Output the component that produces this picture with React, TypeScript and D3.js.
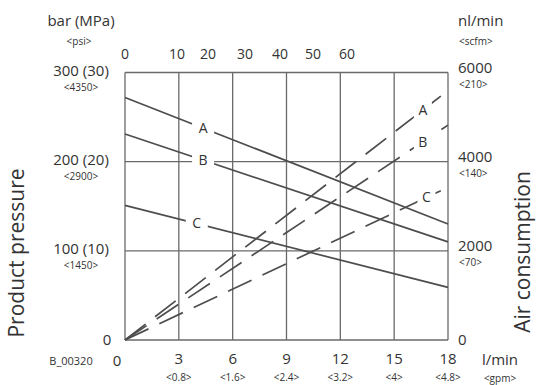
import { useMemo } from "react";
import * as d3 from "d3";

// flow axis (l/min) with gpm sub-labels
const flowTicks = [0, 3, 6, 9, 12, 15, 18];
const gpmLabels = ["", "<0.8>", "<1.6>", "<2.4>", "<3.2>", "<4>", "<4.8>"];

// top scale labels and where they sit on the flow axis
const topLabels = ["0", "10", "20", "30", "40", "50", "60"];
const topLabelFlow = [0, 2.9, 4.63, 6.69, 8.64, 10.48, 12.37];

// left axis (bar)
const pressureTicks = [0, 100, 200, 300];
const pressureLabels = ["0", "100 (10)", "200 (20)", "300 (30)"];
const psiLabels = ["", "<1450>", "<2900>", "<4350>"];

// right axis (nl/min)
const airTicks = [0, 2000, 4000, 6000];
const airLabels = ["0", "2000", "4000", "6000"];
const scfmLabels = ["", "<70>", "<140>", "<210>"];

const seriesNames = ["A", "B", "C"];
// product pressure, solid lines: [flow, bar]
const pressureA: [number, number][] = [[0, 272], [18, 130]];
const pressureB: [number, number][] = [[0, 231], [18, 110]];
const pressureC: [number, number][] = [[0, 151], [18, 59]];
// air consumption, dashed lines: [flow, nl/min]
const airA: [number, number][] = [[0, 0], [17.6, 5470]];
const airB: [number, number][] = [[0, 0], [18, 4820]];
const airC: [number, number][] = [[0, 0], [17.6, 3350]];
// where the letters sit along each line (flow)
const pressureLabelAt = [4.35, 4.35, 4.0];
const airLabelAt = [16.6, 16.6, 16.8];

const FONT = "'Open Sans', 'Noto Sans', sans-serif";
const INK = "#333";
const LINE = "#4d4d4d";
const GRID = "#6a6a6a";

export default function App() {
  const x = useMemo(() => d3.scaleLinear().domain([0, 18]).range([125, 448]), []);
  const y = useMemo(() => d3.scaleLinear().domain([0, 300]).range([340, 72.5]), []);
  const yAir = useMemo(() => d3.scaleLinear().domain([0, 6000]).range([340, 72.5]), []);

  const pLine = d3.line<[number, number]>().x((d) => x(d[0])).y((d) => y(d[1]));
  const aLine = d3.line<[number, number]>().x((d) => x(d[0])).y((d) => yAir(d[1]));

  const pressures = [pressureA, pressureB, pressureC];
  const airs = [airA, airB, airC];

  const at = (pts: [number, number][], f: number) =>
    d3.scaleLinear().domain([pts[0][0], pts[1][0]]).range([pts[0][1], pts[1][1]])(f);

  const [x0, x1] = x.range();
  const [yb, yt] = y.range();

  return (
    <svg
      width={546}
      height={385}
      style={{ position: "fixed", left: 0, top: 0, background: "#fff" }}
      fontFamily={FONT}
    >
      <rect width={546} height={385} fill="#fff" />

      {/* grid */}
      <g stroke={GRID} strokeWidth={1.3} fill="none">
        {flowTicks.map((t) => (
          <line key={"v" + t} x1={x(t)} x2={x(t)} y1={yb} y2={yt} />
        ))}
        {pressureTicks.map((t) => (
          <line key={"h" + t} x1={x0} x2={x1} y1={y(t)} y2={y(t)} />
        ))}
      </g>

      {/* air consumption (dashed) */}
      <g stroke={LINE} strokeWidth={1.7} fill="none" strokeDasharray="26,12">
        {airs.map((pts, i) => (
          <path key={"a" + i} d={aLine(pts) ?? ""} />
        ))}
      </g>

      {/* product pressure (solid) */}
      <g stroke={LINE} strokeWidth={1.7} fill="none">
        {pressures.map((pts, i) => (
          <path key={"p" + i} d={pLine(pts) ?? ""} />
        ))}
      </g>

      {/* series letters with white knock-out */}
      {seriesNames.map((s, i) => {
        const px = x(pressureLabelAt[i]);
        const py = y(at(pressures[i], pressureLabelAt[i]));
        const ax = x(airLabelAt[i]);
        const ay = yAir(at(airs[i], airLabelAt[i]));
        return (
          <g key={"lbl" + s}>
            <rect x={px - 11} y={py - 9} width={22} height={18} fill="#fff" />
            <text x={px} y={py} dy="0.35em" textAnchor="middle" fontSize={14} fill={INK}>
              {s}
            </text>
            <rect x={ax - 9} y={ay - 9} width={18} height={18} fill="#fff" />
            <text x={ax} y={ay} dy="0.35em" textAnchor="middle" fontSize={14} fill={INK}>
              {s}
            </text>
          </g>
        );
      })}

      {/* top labels */}
      {topLabels.map((t, i) => (
        <text
          key={"t" + i}
          x={x(topLabelFlow[i])}
          y={54}
          dy="0.35em"
          textAnchor="middle"
          fontSize={14}
          fill={INK}
        >
          {t}
        </text>
      ))}

      {/* left axis */}
      <text x={81} y={21} dy="0.35em" textAnchor="middle" fontSize={15} fill={INK}>
        bar (MPa)
      </text>
      <text x={79} y={41} dy="0.35em" textAnchor="middle" fontSize={10} fill={INK}>
        {"<psi>"}
      </text>
      {pressureTicks.map((t, i) =>
        t === 0 ? (
          <text key={"l" + t} x={107} y={y(t)} dy="0.35em" textAnchor="middle" fontSize={15} fill={INK}>
            {pressureLabels[i]}
          </text>
        ) : (
          <g key={"l" + t}>
            <text x={81} y={y(t) - 2} dy="0.35em" textAnchor="middle" fontSize={15} fill={INK}>
              {pressureLabels[i]}
            </text>
            <text x={81} y={y(t) + 15} dy="0.35em" textAnchor="middle" fontSize={10} fill={INK}>
              {psiLabels[i]}
            </text>
          </g>
        )
      )}

      {/* right axis */}
      <text x={458} y={21} dy="0.35em" fontSize={15} fill={INK}>
        nl/min
      </text>
      <text x={459} y={41} dy="0.35em" fontSize={10} fill={INK}>
        {"<scfm>"}
      </text>
      {airTicks.map((t, i) =>
        t === 0 ? (
          <text key={"r" + t} x={458} y={yAir(t)} dy="0.35em" fontSize={15} fill={INK}>
            {airLabels[i]}
          </text>
        ) : (
          <g key={"r" + t}>
            <text x={458} y={yAir(t) - 5} dy="0.35em" fontSize={15} fill={INK}>
              {airLabels[i]}
            </text>
            <text x={459} y={yAir(t) + 12} dy="0.35em" fontSize={10} fill={INK}>
              {scfmLabels[i]}
            </text>
          </g>
        )
      )}

      {/* bottom axis */}
      <text x={71} y={361} dy="0.35em" textAnchor="middle" fontSize={11} fill={INK}>
        B_00320
      </text>
      {flowTicks.map((t, i) =>
        t === 0 ? (
          <text key={"b" + t} x={117} y={361} dy="0.35em" textAnchor="middle" fontSize={15} fill={INK}>
            0
          </text>
        ) : (
          <g key={"b" + t}>
            <text x={x(t)} y={359} dy="0.35em" textAnchor="middle" fontSize={15} fill={INK}>
              {t}
            </text>
            <text x={x(t)} y={377} dy="0.35em" textAnchor="middle" fontSize={10} fill={INK}>
              {gpmLabels[i]}
            </text>
          </g>
        )
      )}
      <text x={500} y={360} dy="0.35em" textAnchor="middle" fontSize={15} fill={INK}>
        l/min
      </text>
      <text x={500} y={378} dy="0.35em" textAnchor="middle" fontSize={10} fill={INK}>
        {"<gpm>"}
      </text>

      {/* axis titles */}
      <text
        transform="translate(17,253) rotate(-90)"
        dy="0.35em"
        textAnchor="middle"
        fontSize={21}
        fill={INK}
      >
        Product pressure
      </text>
      <text
        transform="translate(523,252) rotate(-90)"
        dy="0.35em"
        textAnchor="middle"
        fontSize={21}
        fill={INK}
      >
        Air consumption
      </text>
    </svg>
  );
}
